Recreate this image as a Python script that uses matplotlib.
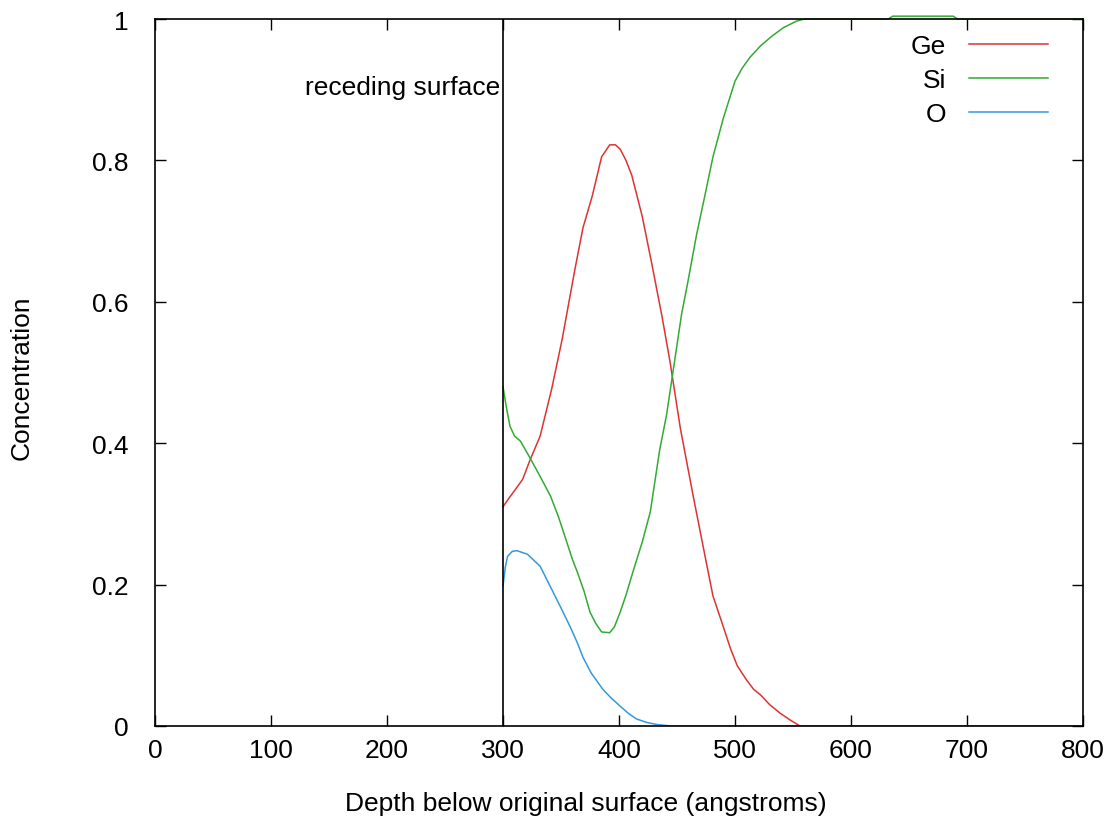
import matplotlib
matplotlib.use("Agg")
import matplotlib.pyplot as plt

# depth (angstroms) / concentration
ge_depth = [300, 305, 310, 317, 323, 332, 342, 351, 362, 369, 377, 385, 392, 397,
            401, 406, 411, 420, 428, 437, 444, 453, 464, 473, 481, 490, 496, 502,
            510, 516, 519, 522, 530, 539, 548, 556, 800]
ge_conc = [0.31, 0.322, 0.333, 0.349, 0.375, 0.41, 0.477, 0.547, 0.646, 0.705, 0.75,
           0.805, 0.822, 0.822, 0.816, 0.8, 0.779, 0.721, 0.656, 0.58, 0.515, 0.42,
           0.325, 0.25, 0.184, 0.14, 0.11, 0.085, 0.065, 0.052, 0.048, 0.044, 0.03,
           0.018, 0.008, 0.0, 0.0]

si_depth = [300, 303, 306, 310, 315, 323, 333, 341, 348, 355, 360, 364, 370, 375,
            380, 385, 392, 396, 401, 406, 412, 420, 427, 435, 441, 446, 451, 454,
            459, 467, 474, 481, 490, 500, 506, 513, 522, 532, 542, 553, 560, 632,
            636, 688, 692, 800]
si_conc = [0.48, 0.45, 0.424, 0.41, 0.403, 0.38, 0.35, 0.325, 0.295, 0.26, 0.235,
           0.218, 0.19, 0.161, 0.145, 0.133, 0.132, 0.14, 0.161, 0.185, 0.218, 0.26,
           0.303, 0.39, 0.44, 0.495, 0.55, 0.583, 0.625, 0.696, 0.75, 0.805, 0.86,
           0.912, 0.93, 0.946, 0.962, 0.976, 0.988, 0.997, 1.0, 1.0, 1.004, 1.004,
           1.0, 1.0]

o_depth = [300, 302, 304, 308, 312, 321, 332, 343, 350, 358, 364, 369, 376, 386,
           393, 401, 408, 415, 424, 433, 445, 800]
o_conc = [0.198, 0.225, 0.24, 0.247, 0.248, 0.243, 0.226, 0.19, 0.167, 0.14, 0.118,
          0.097, 0.075, 0.052, 0.04, 0.028, 0.018, 0.01, 0.005, 0.002, 0.0, 0.0]

surface_depth = 300

plt.rcParams['font.family'] = ['Liberation Sans', 'DejaVu Sans']
fs = 19

fig = plt.figure(figsize=(11.12, 8.28), dpi=100)
ax = fig.add_axes([155 / 1112, 1 - 727 / 828, 928 / 1112, 707 / 828])

ax.plot(ge_depth, ge_conc, color='#dd3333', lw=1.1, label='Ge')
ax.plot(si_depth, si_conc, color='#33aa33', lw=1.1, label='Si', clip_on=False)
ax.plot(o_depth, o_conc, color='#3399dd', lw=1.1, label='O')

ax.axvline(surface_depth, color='black', lw=1.2)
ax.text(surface_depth - 2.5, 0.894, 'receding surface', ha='right', va='baseline',
        fontsize=fs)

ax.set_xlim(0, 800)
ax.set_ylim(0, 1)
ax.set_xticks(range(0, 801, 100))
ax.set_yticks([0, 0.2, 0.4, 0.6, 0.8, 1])
ax.set_yticklabels(['0', '0.2', '0.4', '0.6', '0.8', '1'])
ax.tick_params(direction='in', top=True, right=True, length=8, width=1,
               labelsize=fs)
ax.tick_params(axis='x', pad=9)
ax.tick_params(axis='y', pad=19)
for s in ax.spines.values():
    s.set_linewidth(1.2)

ax.set_xlabel('Depth below original surface (angstroms)', fontsize=fs)
ax.xaxis.set_label_coords(586 / 1112, 1 - 792 / 828, transform=fig.transFigure)
ax.set_ylabel('Concentration', fontsize=fs)
ax.yaxis.set_label_coords(34 / 1112, 1 - 378 / 828, transform=fig.transFigure)

ax.legend(loc='upper right', bbox_to_anchor=(0.962, 0.979), frameon=False,
          markerfirst=False, fontsize=fs, handlelength=3.0, handletextpad=0.85,
          labelspacing=0.38, borderpad=0, borderaxespad=0)

fig.savefig('out.png', dpi=100)
